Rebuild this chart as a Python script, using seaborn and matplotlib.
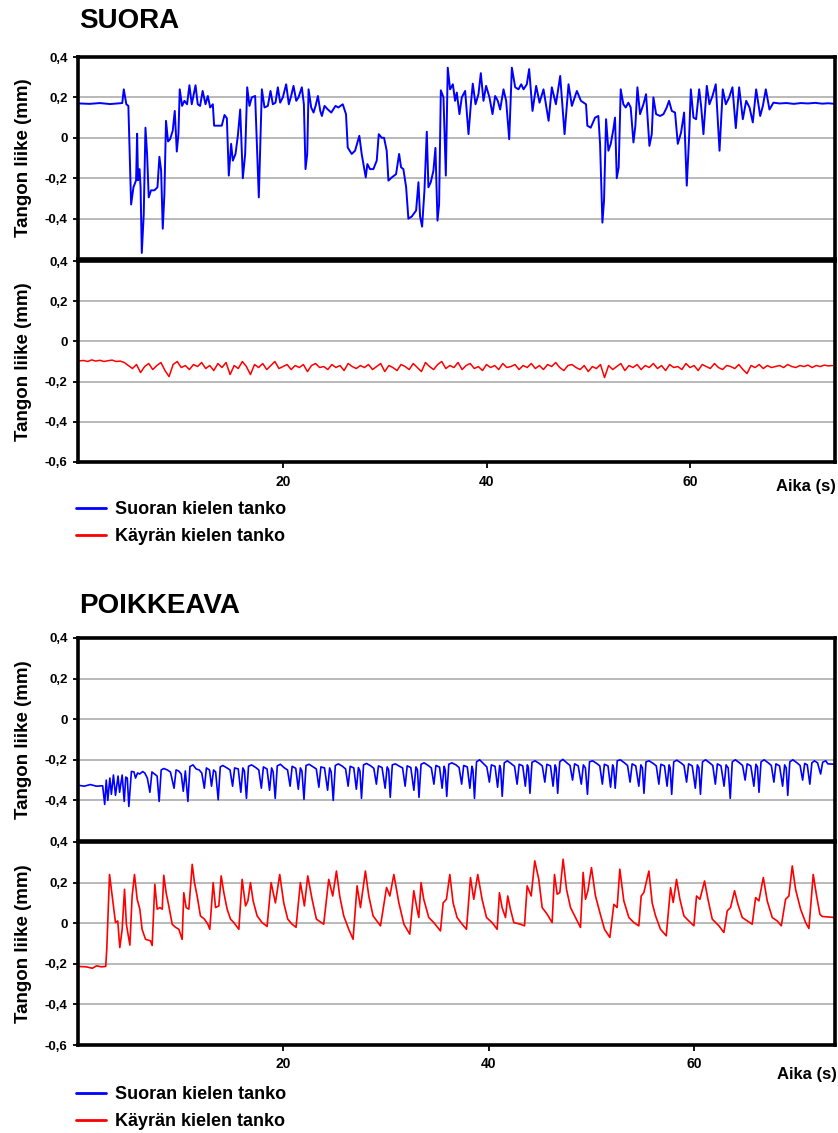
import numpy as np
import pandas as pd
import matplotlib
matplotlib.use("Agg")
import matplotlib.pyplot as plt
import seaborn as sns
from matplotlib.lines import Line2D

# ---------------- DATA ----------------
titles = ["SUORA", "POIKKEAVA"]
series_names = ["Suoran kielen tanko", "Käyrän kielen tanko"]
y_ticks = [0.4, 0.2, 0.0, -0.2, -0.4, -0.6]
y_tick_labels = ["0,4", "0,2", "0", "-0,2", "-0,4", "-0,6"]
x_ticks = [20, 40, 60]
x_tick_labels = ["20", "40", "60"]

# SUORA, straight-rail rod (blue)
suora_blue_t = [0, 1.0, 2.0, 3.0, 3.8, 4.2, 4.35, 4.6, 4.8, 5.07, 5.3, 5.56, 5.66, 5.75, 5.9, 6.0,
    6.12, 6.31, 6.48, 6.64, 6.8, 7.03, 7.36, 7.66, 7.85, 8.02, 8.18, 8.34, 8.5, 8.7, 8.9, 9.16,
    9.36, 9.56, 9.72, 9.85, 10.08, 10.31, 10.57, 10.8, 11.03, 11.23, 11.4, 11.62, 11.85, 12.1,
    12.38, 12.61, 12.84, 13.1, 13.23, 13.59, 13.98, 14.25, 14.48, 14.67, 14.9, 15.07, 15.33,
    15.56, 15.79, 16.05, 16.28, 16.48, 16.7, 16.93, 17.26, 17.62, 17.92, 18.18, 18.51, 18.77,
    19.0, 19.26, 19.49, 19.72, 19.98, 20.31, 20.57, 20.8, 21.03, 21.3, 21.52, 21.85, 22.05,
    22.21, 22.38, 22.51, 22.77, 23.0, 23.2, 23.43, 23.66, 23.82, 24.08, 24.41, 24.74, 25.16,
    25.44, 25.87, 26.19, 26.36, 26.75, 27.08, 27.5, 27.73, 27.9, 28.13, 28.29, 28.55, 28.88,
    29.21, 29.41, 29.7, 29.93, 30.19, 30.36, 30.69, 31.11, 31.41, 31.6, 31.83, 32.1, 32.32,
    32.65, 33.08, 33.31, 33.47, 33.67, 33.9, 34.13, 34.29, 34.52, 34.78, 34.98, 35.18, 35.34,
    35.51, 35.77, 36.0, 36.19, 36.42, 36.69, 36.91, 37.08, 37.34, 37.57, 37.9, 38.23, 38.46,
    38.65, 38.92, 39.21, 39.44, 39.7, 39.96, 40.29, 40.59, 40.85, 41.11, 41.34, 41.67, 41.93,
    42.23, 42.49, 42.82, 43.14, 43.41, 43.64, 43.96, 44.19, 44.52, 44.88, 45.21, 45.6, 46.1,
    46.42, 46.82, 47.24, 47.67, 48.06, 48.39, 48.88, 49.28, 49.78, 49.91, 50.24, 50.67, 50.99,
    51.16, 51.39, 51.55, 51.75, 51.98, 52.21, 52.47, 52.63, 52.8, 52.99, 53.19, 53.45, 53.68,
    53.94, 54.17, 54.44, 54.63, 54.83, 55.09, 55.42, 55.68, 56.01, 56.24, 56.4, 56.67, 57.06,
    57.39, 57.71, 57.94, 58.21, 58.53, 58.8, 59.12, 59.42, 59.68, 59.91, 60.08, 60.34, 60.6,
    60.9, 61.09, 61.32, 61.65, 61.91, 62.21, 62.53, 62.9, 63.22, 63.52, 63.85, 64.17, 64.5,
    64.83, 65.19, 65.52, 65.85, 66.17, 66.5, 66.9, 67.16, 67.45, 67.81, 68.2, 68.8, 69.5, 70.2,
    70.9, 71.6, 72.3, 73.0, 73.6, 74.3]
suora_blue_v = [0.17, 0.168, 0.172, 0.167, 0.17, 0.172, 0.24, 0.166, 0.158, -0.33, -0.245, -0.21,
    0.02, -0.21, -0.155, -0.245, -0.57, -0.38, 0.05, -0.08, -0.295, -0.26, -0.26, -0.245, -0.094,
    -0.163, -0.45, -0.28, 0.084, -0.018, -0.007, 0.035, 0.133, -0.068, 0.018, 0.24, 0.158, 0.183,
    0.166, 0.26, 0.166, 0.216, 0.26, 0.166, 0.158, 0.232, 0.166, 0.207, 0.15, 0.166, 0.06, 0.06,
    0.06, 0.113, 0.097, -0.187, -0.03, -0.113, -0.08, 0.01, 0.14, -0.2, -0.08, 0.25, 0.158, 0.2,
    0.207, -0.295, 0.24, 0.15, 0.158, 0.232, 0.166, 0.174, 0.25, 0.174, 0.2, 0.265, 0.166, 0.207,
    0.257, 0.183, 0.2, 0.25, 0.166, -0.155, -0.08, 0.24, 0.15, 0.125, 0.158, 0.207, 0.133, 0.108,
    0.158, 0.14, 0.125, 0.158, 0.15, 0.166, 0.117, -0.048, -0.08, -0.064, 0.01, -0.08, -0.13,
    -0.196, -0.13, -0.155, -0.155, -0.113, 0.018, 0.0, 0.0, -0.064, -0.212, -0.196, -0.18, -0.08,
    -0.146, -0.155, -0.245, -0.4, -0.39, -0.36, -0.22, -0.39, -0.44, -0.26, 0.03, -0.245, -0.22,
    -0.163, -0.05, -0.41, -0.33, 0.235, 0.2, -0.187, 0.347, 0.24, 0.265, 0.183, 0.224, 0.117, 0.2,
    0.232, 0.018, 0.166, 0.268, 0.166, 0.216, 0.32, 0.183, 0.257, 0.2, 0.117, 0.207, 0.183, 0.14,
    0.24, 0.183, -0.007, 0.347, 0.25, 0.24, 0.265, 0.24, 0.265, 0.34, 0.133, 0.257, 0.174, 0.24,
    0.084, 0.25, 0.166, 0.306, 0.018, 0.265, 0.158, 0.232, 0.183, 0.166, 0.06, 0.05, 0.1, 0.108,
    -0.03, -0.42, -0.31, 0.092, -0.064, -0.03, 0.043, 0.1, -0.2, -0.146, 0.24, 0.166, 0.15, 0.174,
    0.15, -0.023, 0.06, 0.25, 0.117, 0.166, 0.216, -0.04, 0.018, 0.2, 0.117, 0.108, 0.117, 0.15,
    0.183, 0.133, 0.125, -0.03, 0.026, 0.125, -0.237, 0.0, 0.24, 0.1, 0.092, 0.24, 0.158, 0.018,
    0.257, 0.166, 0.207, 0.265, -0.064, 0.24, 0.166, 0.2, 0.25, 0.048, 0.25, 0.092, 0.183, 0.15,
    0.076, 0.24, 0.108, 0.158, 0.24, 0.14, 0.174, 0.17, 0.172, 0.168, 0.172, 0.17, 0.173, 0.169,
    0.171, 0.168]

# SUORA, curved-rail rod (red), sampled every 0.4 s
suora_red_v = [-0.097, -0.095, -0.1, -0.092, -0.098, -0.094, -0.1, -0.096, -0.093, -0.1, -0.098, -0.105,
    -0.12, -0.135, -0.115, -0.155, -0.125, -0.11, -0.14, -0.12, -0.105, -0.145,
    -0.175, -0.115, -0.1, -0.13, -0.12, -0.14, -0.115, -0.125, -0.105, -0.135,
    -0.12, -0.145, -0.11, -0.13, -0.105, -0.165, -0.12, -0.135, -0.1, -0.125,
    -0.165, -0.115, -0.13, -0.11, -0.14, -0.12, -0.1, -0.135, -0.125, -0.115,
    -0.14, -0.12, -0.13, -0.115, -0.15, -0.12, -0.11, -0.13, -0.125, -0.14,
    -0.115, -0.13, -0.12, -0.145, -0.11, -0.125, -0.135, -0.12, -0.13, -0.115,
    -0.14, -0.125, -0.11, -0.15, -0.12, -0.13, -0.145, -0.115, -0.125, -0.14,
    -0.11, -0.13, -0.15, -0.105, -0.125, -0.14, -0.115, -0.1, -0.135, -0.12,
    -0.13, -0.105, -0.14, -0.12, -0.11, -0.135, -0.125, -0.145, -0.115, -0.13,
    -0.12, -0.14, -0.11, -0.13, -0.125, -0.115, -0.14, -0.12, -0.13, -0.11,
    -0.135, -0.12, -0.14, -0.115, -0.125, -0.105, -0.13, -0.145, -0.12, -0.115,
    -0.13, -0.14, -0.12, -0.15, -0.125, -0.135, -0.115, -0.18, -0.12, -0.14,
    -0.125, -0.11, -0.145, -0.12, -0.13, -0.115, -0.14, -0.12, -0.13, -0.11,
    -0.135, -0.12, -0.145, -0.115, -0.13, -0.125, -0.14, -0.11, -0.13, -0.12,
    -0.145, -0.115, -0.125, -0.135, -0.11, -0.13, -0.14, -0.12, -0.125, -0.135,
    -0.115, -0.14, -0.16, -0.12, -0.13, -0.115, -0.135, -0.12, -0.13, -0.125,
    -0.12, -0.13, -0.115, -0.125, -0.13, -0.12, -0.125, -0.118, -0.13, -0.12,
    -0.125, -0.118, -0.122, -0.12]
suora_red_t = [round(0.4 * i, 1) for i in range(len(suora_red_v))]

# POIKKEAVA, straight-rail rod (blue)
poik_blue_t = [0, 0.6, 1.2, 1.8, 2.4,
    2.6, 2.75, 2.9, 3.1, 3.25, 3.45, 3.65, 3.9, 4.05, 4.3, 4.5, 4.65, 4.8, 4.95, 5.2, 5.45, 5.6,
    5.8, 6.0, 6.3, 6.5, 6.75, 7.0, 7.2, 7.45, 7.7, 7.9,
    8.1, 8.35, 8.7, 9.0, 9.35, 9.55, 9.8, 10.05, 10.25, 10.45, 10.7,
    10.9, 11.2, 11.5, 11.8, 12.05, 12.3, 12.5, 12.8, 13.0, 13.2, 13.4, 13.65,
    13.85, 14.1, 14.5, 14.8, 15.05, 15.25, 15.6, 15.85, 16.05, 16.2, 16.4,
    16.6, 16.9, 17.3, 17.6, 17.85, 18.05, 18.4, 18.65, 18.85, 19.0, 19.2,
    19.4, 19.7, 20.1, 20.4, 20.65, 20.85, 21.2, 21.45, 21.65, 21.8, 22.0,
    22.2, 22.5, 22.9, 23.2, 23.45, 23.65, 24.0, 24.3, 24.5, 24.65, 24.85,
    25.05, 25.35, 25.75, 26.05, 26.3, 26.5, 26.85, 27.1, 27.3, 27.45, 27.6,
    27.8, 28.1, 28.5, 28.8, 29.05, 29.25, 29.6, 29.9, 30.1, 30.25, 30.4,
    30.6, 30.9, 31.3, 31.6, 31.85, 32.05, 32.4, 32.7, 32.9, 33.05, 33.2,
    33.4, 33.7, 34.1, 34.4, 34.65, 34.85, 35.2, 35.45, 35.65, 35.75, 35.9,
    36.1, 36.4, 36.8, 37.1, 37.35, 37.55, 37.9, 38.15, 38.35, 38.45, 38.6,
    38.8, 39.1, 39.5, 39.8, 40.05, 40.25, 40.6, 40.85, 41.05, 41.15, 41.3,
    41.5, 41.8, 42.2, 42.5, 42.75, 42.95, 43.3, 43.55, 43.75, 43.85, 44.0,
    44.2, 44.5, 44.9, 45.2, 45.45, 45.65, 46.0, 46.25, 46.45, 46.55, 46.7,
    46.9, 47.2, 47.6, 47.9, 48.15, 48.35, 48.7, 49.0, 49.2, 49.4, 49.6,
    49.8, 50.1, 50.5, 50.8, 51.05, 51.25, 51.6, 51.85, 52.05, 52.15, 52.3,
    52.5, 52.8, 53.2, 53.5, 53.75, 53.95, 54.3, 54.6, 54.8, 54.95, 55.1,
    55.3, 55.6, 56.0, 56.3, 56.55, 56.75, 57.1, 57.35, 57.55, 57.65, 57.8,
    58.0, 58.3, 58.7, 59.0, 59.25, 59.45, 59.8, 60.1, 60.3, 60.45, 60.6,
    60.8, 61.1, 61.5, 61.8, 62.05, 62.25, 62.6, 62.9, 63.1, 63.3, 63.5,
    63.7, 64.0, 64.4, 64.7, 64.95, 65.15, 65.5, 65.8, 66.0, 66.15, 66.3,
    66.5, 66.8, 67.2, 67.5, 67.75, 67.95, 68.3, 68.6, 68.8, 68.95, 69.1,
    69.3, 69.6, 70.0, 70.3, 70.55, 70.75, 71.0, 71.25, 71.45, 71.7, 72.0, 72.3, 72.5, 72.8,
    73.0, 73.7]
poik_blue_v = [-0.325, -0.33, -0.322, -0.33, -0.328,
    -0.42, -0.30, -0.40, -0.29, -0.37, -0.275, -0.375, -0.28, -0.36, -0.275, -0.405, -0.285,
    -0.29, -0.43, -0.257, -0.26, -0.29, -0.265, -0.27, -0.258, -0.265, -0.29, -0.36, -0.26,
    -0.27, -0.28, -0.405,
    -0.25, -0.243, -0.25, -0.26, -0.34, -0.25, -0.255, -0.27, -0.355, -0.255, -0.405,
    -0.233, -0.225, -0.245, -0.25, -0.265, -0.34, -0.24, -0.25, -0.33, -0.25, -0.26, -0.397,
    -0.235, -0.228, -0.24, -0.25, -0.33, -0.24, -0.245, -0.36, -0.24, -0.255, -0.39,
    -0.232, -0.225, -0.238, -0.25, -0.34, -0.235, -0.245, -0.35, -0.24, -0.26, -0.39,
    -0.23, -0.222, -0.24, -0.25, -0.33, -0.232, -0.242, -0.345, -0.24, -0.255, -0.395,
    -0.228, -0.222, -0.235, -0.245, -0.335, -0.235, -0.24, -0.35, -0.24, -0.26, -0.4,
    -0.228, -0.22, -0.232, -0.245, -0.33, -0.232, -0.24, -0.345, -0.238, -0.255, -0.39,
    -0.225, -0.218, -0.23, -0.242, -0.32, -0.23, -0.238, -0.34, -0.235, -0.25, -0.385,
    -0.225, -0.22, -0.232, -0.24, -0.33, -0.23, -0.238, -0.35, -0.235, -0.25, -0.385,
    -0.222, -0.215, -0.228, -0.24, -0.32, -0.228, -0.236, -0.34, -0.232, -0.25, -0.38,
    -0.222, -0.215, -0.225, -0.238, -0.32, -0.228, -0.235, -0.34, -0.232, -0.25, -0.39,
    -0.21, -0.2, -0.22, -0.235, -0.31, -0.225, -0.232, -0.335, -0.228, -0.245, -0.38,
    -0.215, -0.205, -0.22, -0.232, -0.32, -0.222, -0.23, -0.33, -0.225, -0.24, -0.365,
    -0.212, -0.205, -0.218, -0.23, -0.31, -0.222, -0.23, -0.33, -0.225, -0.24, -0.365,
    -0.21, -0.198, -0.215, -0.228, -0.3, -0.22, -0.23, -0.32, -0.225, -0.24, -0.37,
    -0.21, -0.205, -0.218, -0.23, -0.32, -0.222, -0.23, -0.335, -0.225, -0.24, -0.34,
    -0.205, -0.2, -0.215, -0.228, -0.31, -0.22, -0.23, -0.33, -0.225, -0.24, -0.365,
    -0.21, -0.205, -0.218, -0.23, -0.32, -0.222, -0.23, -0.33, -0.225, -0.24, -0.37,
    -0.21, -0.202, -0.215, -0.228, -0.31, -0.22, -0.23, -0.34, -0.225, -0.24, -0.37,
    -0.21, -0.2, -0.215, -0.228, -0.32, -0.22, -0.23, -0.33, -0.225, -0.24, -0.39,
    -0.21, -0.2, -0.215, -0.228, -0.3, -0.22, -0.23, -0.33, -0.222, -0.235, -0.36,
    -0.21, -0.2, -0.215, -0.228, -0.31, -0.22, -0.23, -0.33, -0.225, -0.24, -0.375,
    -0.21, -0.2, -0.215, -0.228, -0.3, -0.218, -0.225, -0.32, -0.215, -0.205, -0.215, -0.27,
    -0.212, -0.205, -0.22, -0.222]

# POIKKEAVA, curved-rail rod (red)
poik_red_t = [0, 0.8, 1.4, 1.8, 2.3, 2.7, 2.8, 3.07, 3.33, 3.65, 3.87, 4.07, 4.3, 4.53, 4.71, 5.05,
    5.27, 5.5, 5.76, 6.02, 6.24, 6.57, 7.06, 7.22, 7.48, 7.71, 7.97, 8.2, 8.35, 8.58, 8.84, 9.17,
    9.49, 9.82, 10.14, 10.3, 10.53, 10.79, 11.12, 11.34, 11.6, 11.92, 12.31, 12.64, 12.83, 13.16,
    13.39, 13.71, 13.94, 14.2, 14.52, 14.85, 15.17, 15.66, 15.98, 16.31, 16.54, 16.79, 17.05,
    17.44, 17.92, 18.41, 18.8, 19.22, 19.64, 20.03, 20.42, 20.84, 21.23, 21.65, 22.04, 22.37,
    22.79, 23.21, 23.92, 24.41, 24.8, 25.16, 25.48, 25.87, 26.36, 26.78, 27.17, 27.5, 27.98,
    28.31, 28.73, 29.45, 30.04, 30.36, 30.75, 31.24, 31.73, 32.3, 32.69, 33.01, 33.18, 33.4,
    33.66, 34.15, 34.64, 35.29, 35.55, 35.87, 36.2, 36.52, 36.91, 37.4, 37.82, 38.21, 38.53,
    38.92, 39.34, 39.77, 40.32, 40.81, 41.03, 41.29, 41.62, 41.84, 42.1, 42.43, 43.08, 43.47,
    43.73, 44.12, 44.47, 44.86, 45.19, 45.68, 46.16, 46.39, 46.65, 46.91, 47.23, 47.56, 47.95,
    48.44, 48.92, 49.18, 49.41, 49.64, 49.99, 50.38, 50.81, 51.26, 51.78, 52.17, 52.49, 52.75,
    53.14, 53.63, 54.12, 54.6, 54.83, 55.09, 55.58, 55.9, 56.23, 56.71, 57.27, 57.69, 57.95,
    58.27, 58.6, 58.99, 59.47, 59.96, 60.22, 60.55, 61.0, 61.33, 61.75, 62.4, 62.88, 63.21,
    63.53, 63.92, 64.25, 64.67, 65.16, 65.64, 65.97, 66.29, 66.72, 67.1, 67.59, 68.08, 68.47,
    68.89, 69.21, 69.54, 69.86, 70.35, 70.84, 71.16, 71.58, 71.91, 72.23, 72.46, 73.6, 73.7]
poik_red_v = [-0.213, -0.215, -0.222, -0.21, -0.215, -0.213, -0.128, 0.24, 0.134, 0.003, 0.011,
    -0.12, -0.03, 0.167, -0.005, -0.108, 0.134, 0.24, 0.118, 0.069, -0.03, -0.079, -0.087, -0.11,
    0.192, 0.069, 0.077, 0.069, 0.236, 0.15, 0.085, -0.005, -0.02, -0.03, -0.08, 0.15, 0.077,
    0.069, 0.29, 0.2, 0.134, 0.036, 0.02, -0.005, -0.03, 0.2, 0.077, 0.085, 0.233, 0.15, 0.069,
    0.02, 0.003, -0.03, 0.216, 0.085, 0.11, 0.2, 0.11, 0.036, 0.003, -0.016, 0.2, 0.1, 0.24, 0.1,
    0.02, -0.005, -0.02, 0.2, 0.085, 0.233, 0.118, 0.02, -0.005, 0.216, 0.134, 0.257, 0.134,
    0.036, -0.03, -0.079, 0.184, 0.077, 0.257, 0.134, 0.036, -0.013, 0.176, 0.134, 0.24, 0.1,
    -0.005, -0.054, 0.16, 0.069, 0.028, 0.2, 0.118, 0.028, 0.003, -0.038, 0.1, 0.118, 0.24, 0.1,
    0.028, -0.005, -0.03, 0.225, 0.118, 0.24, 0.118, 0.028, 0.003, -0.03, 0.15, 0.077, 0.028,
    0.134, 0.069, 0.003, -0.005, -0.013, 0.184, 0.134, 0.307, 0.216, 0.077, 0.044, 0.003, 0.24,
    0.143, 0.151, 0.315, 0.167, 0.077, 0.028, -0.021, 0.25, 0.118, 0.159, 0.274, 0.134, 0.052,
    -0.03, -0.07, 0.093, 0.077, 0.266, 0.11, 0.028, 0.003, -0.013, 0.134, 0.151, 0.257, 0.1,
    0.036, -0.03, -0.062, 0.175, 0.102, 0.216, 0.118, 0.036, 0.011, -0.013, 0.134, 0.118, 0.208,
    0.118, 0.02, -0.013, -0.046, 0.061, 0.077, 0.16, 0.093, 0.028, 0.011, -0.005, 0.126, 0.11,
    0.225, 0.11, 0.028, 0.011, -0.013, 0.118, 0.134, 0.282, 0.167, 0.069, 0.003, -0.026, 0.24,
    0.134, 0.044, 0.033, 0.028, 0.028]

# ---------------- STYLE / LAYOUT ----------------
sns.set_style("white")
plt.rcParams['font.family'] = ['Liberation Sans', 'DejaVu Sans']
plt.rcParams['text.color'] = 'black'
plt.rcParams['axes.labelcolor'] = 'black'
plt.rcParams['xtick.color'] = 'black'
plt.rcParams['ytick.color'] = 'black'

W, H = 838, 1133
fig = plt.figure(figsize=(W / 100, H / 100), dpi=100)
BLUE = "#0000FF"
RED = "#FF0000"


def add_ax(left, top, right, bottom):
    return fig.add_axes([left / W, 1 - bottom / H, (right - left) / W, (bottom - top) / H])


def style_ax(ax, xlim, show_x, top_panel):
    ax.set_xlim(*xlim)
    ax.set_ylim(-0.6, 0.4)
    if top_panel:
        ax.set_yticks(y_ticks[:-1])
        ax.set_yticklabels(y_tick_labels[:-1])
    else:
        ax.set_yticks(y_ticks)
        ax.set_yticklabels(y_tick_labels)
    ax.yaxis.grid(True, color="#b9b9b9", lw=1.4)
    ax.xaxis.grid(False)
    ax.set_axisbelow(True)
    for s in ax.spines.values():
        s.set_color("black")
        s.set_linewidth(2.6)
        s.set_visible(True)
    ax.tick_params(axis="y", which="both", left=True, length=3.5, width=1.3, pad=4,
                   labelsize=9.5, colors="black")
    for lab in ax.get_yticklabels():
        lab.set_fontweight("bold")
    if show_x:
        ax.set_xticks(x_ticks)
        ax.set_xticklabels(x_tick_labels)
        ax.tick_params(axis="x", bottom=True, length=4, width=1.3, pad=5, labelsize=10,
                       colors="black")
        for lab in ax.get_xticklabels():
            lab.set_fontweight("bold")
    else:
        ax.set_xticks([])
    ax.set_xlabel("")
    ax.set_ylabel("Tangon liike (mm)", fontsize=13.5, fontweight="bold", color="black")
    ax.yaxis.set_label_coords(-0.061, 0.5)


def draw(ax, t, v, color, lw):
    df = pd.DataFrame({"t": t, "v": v})
    sns.lineplot(data=df, x="t", y="v", ax=ax, color=color, lw=lw,
                 estimator=None, sort=False, legend=False)


# ---- SUORA ----
ax1 = add_ax(78, 57, 835, 259)
ax2 = add_ax(78, 261, 835, 462)
draw(ax1, suora_blue_t, suora_blue_v, BLUE, 1.4)
draw(ax2, suora_red_t, suora_red_v, RED, 1.1)
style_ax(ax1, (-0.15, 74.25), False, True)
style_ax(ax2, (-0.15, 74.25), True, False)

# ---- POIKKEAVA ----
ax3 = add_ax(78, 638, 835, 841)
ax4 = add_ax(78, 842, 835, 1045)
draw(ax3, poik_blue_t, poik_blue_v, BLUE, 1.2)
draw(ax4, poik_red_t, poik_red_v, RED, 1.2)
style_ax(ax3, (0, 73.7), False, True)
style_ax(ax4, (0, 73.7), True, False)

# titles
fig.text(79 / W, 1 - 21 / H, titles[0], fontsize=20, fontweight="bold", ha="left", va="center")
fig.text(79 / W, 1 - 606 / H, titles[1], fontsize=20, fontweight="bold", ha="left", va="center")

# x-axis captions
fig.text(836 / W, 1 - 487 / H, "Aika (s)", fontsize=12, fontweight="bold", ha="right", va="center")
fig.text(837 / W, 1 - 1074 / H, "Aika (s)", fontsize=12, fontweight="bold", ha="right", va="center")

# legends
handles = [Line2D([], [], color=BLUE, lw=2), Line2D([], [], color=RED, lw=2)]
for top_px in (501, 1086):
    fig.legend(handles, series_names, loc="upper left",
               bbox_to_anchor=(76 / W, 1 - top_px / H), frameon=False,
               prop={"weight": "bold", "size": 13}, handlelength=1.65,
               handletextpad=0.5, labelspacing=0.55, borderpad=0, borderaxespad=0)

fig.savefig("out.png", dpi=100)
